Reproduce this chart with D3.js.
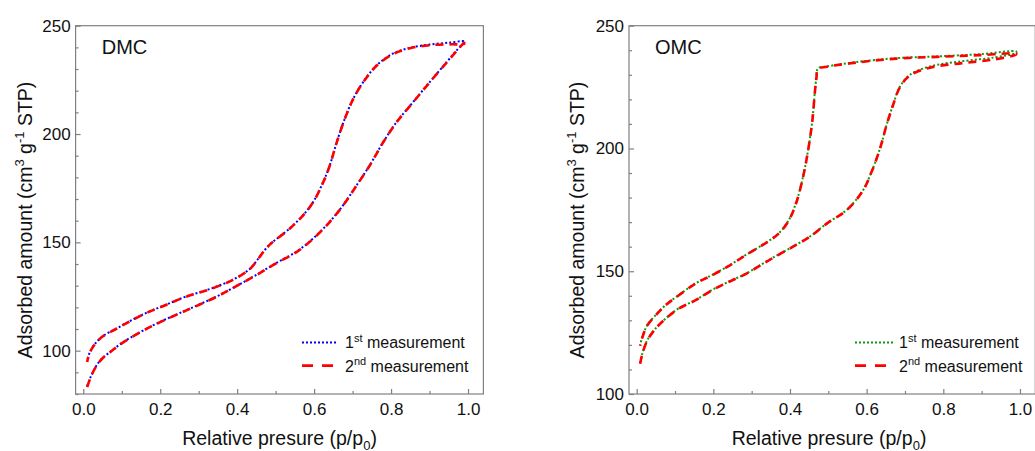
<!DOCTYPE html>
<html><head><meta charset="utf-8">
<script src="https://cdn.jsdelivr.net/npm/d3@7"></script>
<style>
body{margin:0;background:#fff}
text{font-family:'Liberation Sans',Arial,sans-serif;fill:#111}
</style>
</head><body>
<svg id="c" width="1035" height="451"></svg>
<script>
// ---------- DATA ----------
// DMC: adsorption branch (ascending p/p0) then desorption branch (descending)
const dmcX = [0.01,0.02,0.033,0.05,0.072,0.10,0.15,0.20,0.25,0.30,0.35,0.40,0.45,0.50,0.555,0.598,0.641,0.676,0.711,0.745,0.78,0.815,0.858,0.901,0.945,0.971,0.99,
              0.99,0.953,0.901,0.849,0.806,0.763,0.728,0.702,0.68,0.659,0.641,0.624,0.598,0.572,0.537,0.501,0.486,0.466,0.45,0.432,0.388,0.328,0.267,0.215,0.172,0.128,0.085,0.05,0.029,0.016,0.01];
const dmc1Y = [83.6,88.2,92.8,96.6,99.7,103.5,108.8,113.3,117.3,121.2,125.3,130.0,135.0,140.3,145.8,151.9,159.6,167.3,176.5,185.7,196.4,205.7,214.9,224.1,233.3,238.7,242.5,
              242.8,242.2,241.3,239.8,237.2,231.8,224.1,216.4,207.2,196.4,185.7,178.0,168.8,162.7,156.5,151.4,149.3,145.2,141.3,137.6,132.7,128.4,125.0,121.2,118.1,114.3,110.1,106.6,102.8,98.9,95.1];
const dmc2Y = [83.2,88.0,92.6,96.5,99.6,103.4,108.7,113.2,117.2,121.1,125.2,130.0,134.9,140.2,145.6,151.7,159.5,167.2,176.4,185.6,196.3,205.6,214.8,224.0,233.1,238.4,242.1,
              241.6,241.4,241.0,239.6,237.0,231.6,224.0,216.3,207.1,196.3,185.6,177.9,168.7,162.6,156.4,151.3,149.2,145.1,141.2,137.5,132.6,128.3,124.9,121.1,118.0,114.2,110.0,106.5,102.7,98.7,94.8];

// OMC: adsorption branch then desorption branch
const omcX = [0.009,0.015,0.028,0.05,0.076,0.11,0.154,0.197,0.241,0.284,0.328,0.371,0.415,0.458,0.496,0.548,0.591,0.613,0.635,0.652,0.669,0.687,0.713,0.765,0.852,0.93,0.99,
              0.99,0.896,0.783,0.678,0.574,0.496,0.473,0.469,0.465,0.458,0.448,0.435,0.417,0.397,0.371,0.328,0.284,0.241,0.197,0.154,0.11,0.076,0.05,0.028,0.015,0.009];
const omc1Y = [112.5,116.6,122.0,126.8,130.8,134.9,138.3,142.4,145.8,148.9,153.0,156.9,160.7,164.8,169.5,175.0,183.1,190.6,200.1,209.6,217.8,225.2,230.0,233.4,235.6,237.0,239.0,
              239.5,238.4,237.5,236.8,235.2,233.4,232.6,229.0,223.2,211.0,200.1,189.2,178.4,170.9,165.5,160.7,156.6,152.3,148.5,145.1,140.3,136.3,132.2,128.1,123.3,120.0];
const omc2Y = [112.3,116.4,121.9,126.7,130.7,134.8,138.2,142.3,145.7,148.8,152.9,156.8,160.6,164.7,169.4,174.9,183.0,190.5,200.0,209.5,217.7,225.0,229.7,232.9,234.8,236.2,238.3,
              238.6,238.0,237.3,236.6,235.0,233.3,232.4,228.8,223.0,210.8,199.9,189.0,178.2,170.7,165.4,160.6,156.5,152.2,148.4,145.0,140.2,136.2,132.1,128.0,123.1,119.6];

const xMajor = [0, 0.2, 0.4, 0.6, 0.8, 1.0];
const xMinor = [0.1, 0.3, 0.5, 0.7, 0.9];
const dmcYMajor = [100, 150, 200, 250];
const dmcYMinor = [80, 90, 110, 120, 130, 140, 160, 170, 180, 190, 210, 220, 230, 240];
const omcYMajor = [100, 150, 200, 250];
const omcYMinor = [110, 120, 130, 140, 160, 170, 180, 190, 210, 220, 230, 240];
const panelNames = ["DMC", "OMC"];
const legendOrd = [["1","st"], ["2","nd"]];

// ---------- DRAW ----------
const svg = d3.select("#c");
const frameCol = "#808080";

const panels = [
  {name: panelNames[0], x: dmcX, s1: dmc1Y, s2: dmc2Y, c1: "#0000ff", yDom: [80, 250], yMaj: dmcYMajor, yMin: dmcYMinor,
   left: 75.6, right: 483.4, yTitleX: 32, xTitleX: 279.5, legX: 302, legLen: 36, legTx: 345},
  {name: panelNames[1], x: omcX, s1: omc1Y, s2: omc2Y, c1: "#0a9a0a", yDom: [100, 250], yMaj: omcYMajor, yMin: omcYMinor,
   left: 629, right: 1035.3, yTitleX: 584, xTitleX: 829, legX: 855, legLen: 38, legTx: 899}
];
const plotTop = 25.7, plotBottom = 394;

panels.forEach(p => {
  const x = d3.scaleLinear().domain([-0.02, 1.04]).range([p.left, p.right]);
  const y = d3.scaleLinear().domain(p.yDom).range([plotBottom, plotTop]);
  const g = svg.append("g");

  // frame
  g.append("rect").attr("x", p.left).attr("y", plotTop).attr("width", p.right - p.left).attr("height", plotBottom - plotTop)
    .attr("fill", "none").attr("stroke", frameCol).attr("stroke-width", 1.2);

  // x axis
  const xa = g.append("g").attr("transform", `translate(0,${plotBottom})`)
    .call(d3.axisBottom(x).tickValues(xMajor).tickSize(-5).tickPadding(9).tickFormat(d3.format(".1f")));
  const xm = g.append("g").attr("transform", `translate(0,${plotBottom})`)
    .call(d3.axisBottom(x).tickValues(xMinor).tickSize(-3).tickFormat(""));
  // y axis
  const ya = g.append("g").attr("transform", `translate(${p.left},0)`)
    .call(d3.axisLeft(y).tickValues(p.yMaj).tickSize(-5).tickPadding(5).tickFormat(d3.format("d")));
  const ym = g.append("g").attr("transform", `translate(${p.left},0)`)
    .call(d3.axisLeft(y).tickValues(p.yMin).tickSize(-3).tickFormat(""));
  [xa, xm, ya, ym].forEach(a => {
    a.select(".domain").remove();
    a.selectAll(".tick line").attr("stroke", frameCol).attr("stroke-width", 1.2);
    a.selectAll(".tick text").attr("font-size", 17).attr("fill", "#111")
      .style("font-family", "'Liberation Sans',Arial,sans-serif");
  });

  // curves
  const pts1 = p.x.map((v, i) => [v, p.s1[i]]);
  const pts2 = p.x.map((v, i) => [v, p.s2[i]]);
  const line = d3.line().x(d => x(d[0])).y(d => y(d[1])).curve(d3.curveCatmullRom.alpha(0.5));
  g.append("path").attr("d", line(pts1)).attr("fill", "none").attr("stroke", p.c1)
    .attr("stroke-width", 2).attr("stroke-dasharray", "2,2.2");
  g.append("path").attr("d", line(pts2)).attr("fill", "none").attr("stroke", "#ff0000")
    .attr("stroke-width", 2.6).attr("stroke-dasharray", "8,6");

  // panel label
  g.append("text").attr("x", x(0.048)).attr("y", 53.5).attr("font-size", 20).text(p.name);

  // axis titles
  const xt = g.append("text").attr("x", p.xTitleX).attr("y", 444.5).attr("text-anchor", "middle").attr("font-size", 19.5);
  xt.append("tspan").text("Relative presure (p/p");
  xt.append("tspan").attr("font-size", 13).attr("dy", 5).text("0");
  xt.append("tspan").attr("dy", -5).text(")");

  const yt = g.append("text").attr("transform", `translate(${p.yTitleX},220) rotate(-90)`)
    .attr("text-anchor", "middle").attr("font-size", 19.5);
  yt.append("tspan").text("Adsorbed amount (cm");
  yt.append("tspan").attr("font-size", 13).attr("dy", -8).text("3");
  yt.append("tspan").attr("dy", 8).text(" g");
  yt.append("tspan").attr("font-size", 13).attr("dy", -8).text("-1");
  yt.append("tspan").attr("dy", 8).text(" STP)");

  // legend
  const rows = [{y: 342.6, c: p.c1, w: 2, da: "2,2", ord: legendOrd[0]},
                {y: 365.7, c: "#ff0000", w: 2.8, da: "11,9", ord: legendOrd[1]}];
  rows.forEach(r => {
    g.append("line").attr("x1", p.legX).attr("x2", p.legX + p.legLen).attr("y1", r.y).attr("y2", r.y)
      .attr("stroke", r.c).attr("stroke-width", r.w).attr("stroke-dasharray", r.da);
    const t = g.append("text").attr("x", p.legTx).attr("y", r.y + 5.8).attr("font-size", 16);
    t.append("tspan").text(r.ord[0]);
    t.append("tspan").attr("font-size", 11).attr("dy", -6.5).text(r.ord[1]);
    t.append("tspan").attr("dy", 6.5).text(" measurement");
  });
});
</script>
</body></html>
